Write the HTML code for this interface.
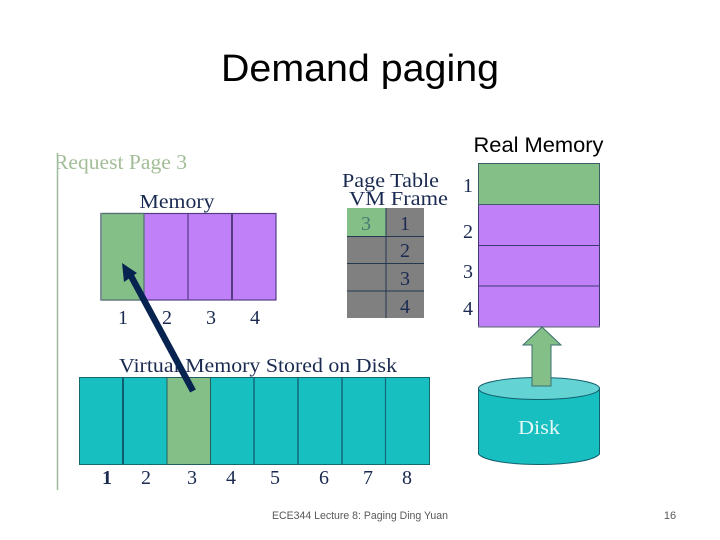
<!DOCTYPE html>
<html><head><meta charset="utf-8"><style>html,body{margin:0;padding:0;background:#fff}svg{display:block}</style></head>
<body>
<svg width="720" height="540" viewBox="0 0 720 540" xmlns="http://www.w3.org/2000/svg">
<rect width="720" height="540" fill="#fff"/>
<text x="360" y="81" text-anchor="middle" font-family="'Liberation Sans',sans-serif" font-size="38" fill="#000" textLength="278" lengthAdjust="spacingAndGlyphs">Demand paging</text>
<text x="538.5" y="152" text-anchor="middle" font-family="'Liberation Sans',sans-serif" font-size="21" fill="#000" textLength="130" lengthAdjust="spacingAndGlyphs">Real Memory</text>
<g font-family="'Liberation Serif',serif" fill="#1a2a50">
<text x="54" y="169" font-size="21" fill="#a3bd97" textLength="133" lengthAdjust="spacingAndGlyphs">Request Page 3</text>
<text x="177" y="208" font-size="20" text-anchor="middle" textLength="75" lengthAdjust="spacingAndGlyphs">Memory</text>
</g>
<rect x="40" y="150" width="17" height="30" fill="#fff"/>
<line x1="57.500" y1="153" x2="57.500" y2="490" stroke="#9dbb9d" stroke-width="1.500"/>
<!-- Memory -->
<rect x="101" y="213.500" width="175" height="86.500" fill="#c080f8" stroke="#553d85" stroke-width="1.200"/>
<rect x="101" y="213.500" width="43" height="86.500" fill="#84bf88" stroke="#4f6f70" stroke-width="1.200"/>
<line x1="101" y1="213" x2="101" y2="300" stroke="#7d8f95" stroke-width="2"/>
<line x1="188" y1="213" x2="188" y2="300" stroke="#553d85" stroke-width="1.200"/>
<line x1="232" y1="213" x2="232" y2="300" stroke="#553d85" stroke-width="2"/>
<g font-family="'Liberation Serif',serif" font-size="20" fill="#1a2a50" text-anchor="middle">
<text x="123" y="324">1</text><text x="167" y="324">2</text><text x="211" y="324">3</text><text x="255" y="324">4</text>
</g>
<!-- Page table -->
<g font-family="'Liberation Serif',serif" fill="#1a2a50">
<text x="342" y="187" font-size="20" textLength="97" lengthAdjust="spacingAndGlyphs">Page Table</text>
<text x="349" y="205" font-size="20" textLength="99" lengthAdjust="spacingAndGlyphs">VM Frame</text>
</g>
<rect x="347" y="208" width="77" height="110" fill="#808080"/>
<rect x="347" y="208" width="39" height="28" fill="#84bf88"/>
<g stroke="#24384f" stroke-width="1">
<line x1="386" y1="208" x2="386" y2="318"/>
<line x1="347" y1="236.500" x2="424" y2="236.500"/>
<line x1="347" y1="263.500" x2="424" y2="263.500"/>
<line x1="347" y1="291" x2="424" y2="291"/>
</g>
<g font-family="'Liberation Serif',serif" font-size="20" fill="#1a2a50" text-anchor="middle">
<text x="366" y="230" fill="#4a7a70">3</text><text x="405" y="230">1</text><text x="405" y="257">2</text><text x="405" y="285">3</text><text x="405" y="313">4</text>
</g>
<!-- Real memory -->
<rect x="478.500" y="163.500" width="121" height="163" fill="#c080f8" stroke="#3d3a70" stroke-width="1"/>
<rect x="478.500" y="163.500" width="121" height="41" fill="#84bf88" stroke="#3f5f68" stroke-width="1"/>
<line x1="478" y1="245.500" x2="600" y2="245.500" stroke="#3d3a70"/>
<line x1="478" y1="286" x2="600" y2="286" stroke="#3d3a70"/>
<line x1="478" y1="327" x2="600" y2="327" stroke="#9a90b0" stroke-width="1.500"/>
<g font-family="'Liberation Serif',serif" font-size="20" fill="#1a2a50" text-anchor="middle">
<text x="468" y="192">1</text><text x="468" y="238">2</text><text x="468" y="278">3</text><text x="468" y="315">4</text>
</g>
<!-- Disk -->
<path d="M478.500 388 V454 C 490 468 588 468 599.500 454 V388 Z" fill="#17bfc0" stroke="#13606e" stroke-width="1"/>
<ellipse cx="539" cy="388.500" rx="60.500" ry="11" fill="#64d3d3" stroke="#13606e" stroke-width="1"/>
<text x="539" y="434" text-anchor="middle" font-family="'Liberation Serif',serif" font-size="20" fill="#e4f8f6" textLength="42" lengthAdjust="spacingAndGlyphs">Disk</text>
<polygon points="542,327 561,345 551,345 551,386 532,386 532,345 523,345" fill="#84bf88" stroke="#3b6f70" stroke-width="1"/>
<!-- Virtual memory -->
<text x="119" y="372" font-family="'Liberation Serif',serif" font-size="20" fill="#1a2a50" textLength="278" lengthAdjust="spacingAndGlyphs">Virtual Memory Stored on Disk</text>
<rect x="79.500" y="377.500" width="350" height="87" fill="#17bfc0" stroke="#14686f" stroke-width="1"/>
<rect x="167" y="377.500" width="43.500" height="87" fill="#84bf88" stroke="#245f60" stroke-width="1"/>
<g stroke="#14687a">
<line x1="123" y1="378" x2="123" y2="464" stroke-width="2" stroke="#125a70"/>
<line x1="254" y1="378" x2="254" y2="464" stroke-width="1.500"/>
<line x1="298" y1="378" x2="298" y2="464" stroke-width="1.500"/>
<line x1="342" y1="378" x2="342" y2="464" stroke-width="1.500"/>
<line x1="385.500" y1="378" x2="385.500" y2="464" stroke-width="1.200"/>
</g>
<g font-family="'Liberation Serif',serif" font-size="20" fill="#1a2a50" text-anchor="middle">
<text x="107" y="484" font-weight="bold">1</text><text x="146" y="484">2</text><text x="192" y="484">3</text><text x="231" y="484">4</text><text x="275" y="484">5</text><text x="324" y="484">6</text><text x="368" y="484">7</text><text x="407" y="484">8</text>
</g>
<!-- Arrow -->
<line x1="193" y1="391" x2="131" y2="276" stroke="#072350" stroke-width="6.500"/>
<polygon points="122,263 137,273 124,282" fill="#072350"/>
<!-- Footer -->
<text x="360" y="519" text-anchor="middle" font-family="'Liberation Sans',sans-serif" font-size="11" fill="#595959" textLength="176" lengthAdjust="spacingAndGlyphs">ECE344 Lecture 8: Paging Ding Yuan</text>
<text x="670" y="519" text-anchor="middle" font-family="'Liberation Sans',sans-serif" font-size="11" fill="#595959">16</text>
</svg>
</body></html>
